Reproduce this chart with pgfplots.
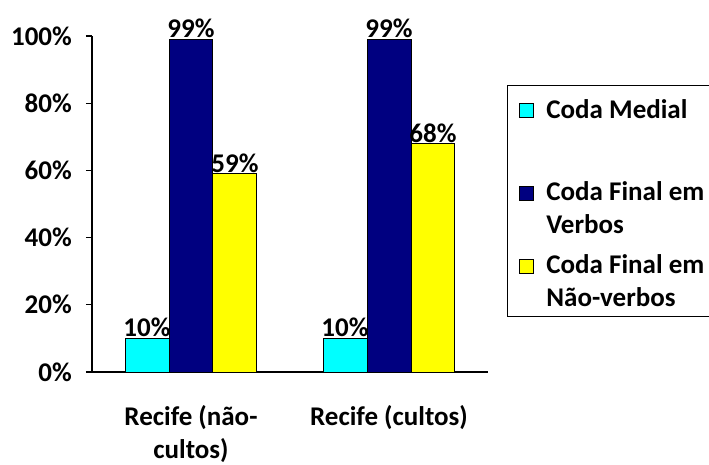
\documentclass[border=0pt]{standalone}
\usepackage{fontspec}
\setmainfont{Carlito}
\usepackage{pgfplots}
\pgfplotsset{compat=1.18}
\definecolor{cyanbar}{RGB}{0,255,255}
\definecolor{navybar}{RGB}{0,0,128}
\definecolor{yellowbar}{RGB}{255,255,0}
\begin{document}
\begin{tikzpicture}[font=\fontsize{27}{33}\selectfont\bfseries]
\useasboundingbox (0pt,0pt) rectangle (709pt,464pt);
\begin{axis}[
  at={(92pt,92pt)}, anchor=south west,
  scale only axis, width=396pt, height=336pt,
  xmin=0, xmax=2, ymin=0, ymax=100,
  axis lines*=left,
  axis line style={-, line width=1.2pt},
  every tick/.style={black, line width=1.2pt},
  tick align=outside,
  major tick length=6pt, minor tick length=6pt,
  /pgf/number format/assume math mode=true,
  ytick={0,20,...,100},
  yticklabel={\pgfmathprintnumber{\tick}\%},
  yticklabel style={anchor=east, inner sep=0pt, xshift=-14pt},
  xtick={0.5,1.5},
  xticklabels={{Recife (não-\\cultos)},{Recife (cultos)}},
  xticklabel style={align=center, anchor=north, inner sep=0pt, yshift=-27pt},
  x tick style={draw=none},
  minor xtick={0,1,2},
  minor x tick style={black, line width=1.2pt},
  ybar, bar width=0.2222,
  nodes near coords={\pgfmathprintnumber{\pgfplotspointmeta}\%},
  every node near coord/.append style={anchor=base, inner sep=0pt, yshift=1.5pt, font=\fontsize{27}{33}\selectfont\bfseries},
  legend image code/.code={\draw[#1, draw=black, line width=0.9pt] (0pt,-19pt) rectangle (14pt,-5pt);},
  legend style={at={(1.048,0.854)}, anchor=north west, draw=black, line width=1pt,
    inner xsep=11pt, inner ysep=8pt, /tikz/column sep=13pt, /tikz/row sep=19pt,
    nodes={inner sep=0pt, align=left, line width=0.9pt},
    cells={anchor=north west}},
]
\addplot[fill=cyanbar, draw=black, line width=1pt, bar shift=-0.2222,
  legend image code/.code={\draw[##1, draw=black, line width=0.9pt] (0pt,-24pt) rectangle (14pt,-10pt);}]
  coordinates {(0.5,10) (1.5,10)};
\addlegendentry{\rule{0pt}{24pt}Coda Medial\\[10pt]\mbox{}}
\addplot[fill=navybar, draw=black, line width=1pt, bar shift=0] coordinates {(0.5,99) (1.5,99)};
\addlegendentry{\makebox[180pt][l]{Coda Final em}\\Verbos}
\addplot[fill=yellowbar, draw=black, line width=1pt, bar shift=0.2222] coordinates {(0.5,59) (1.5,68)};
\addlegendentry{Coda Final em\\Não-verbos}
\end{axis}
\end{tikzpicture}
\end{document}
